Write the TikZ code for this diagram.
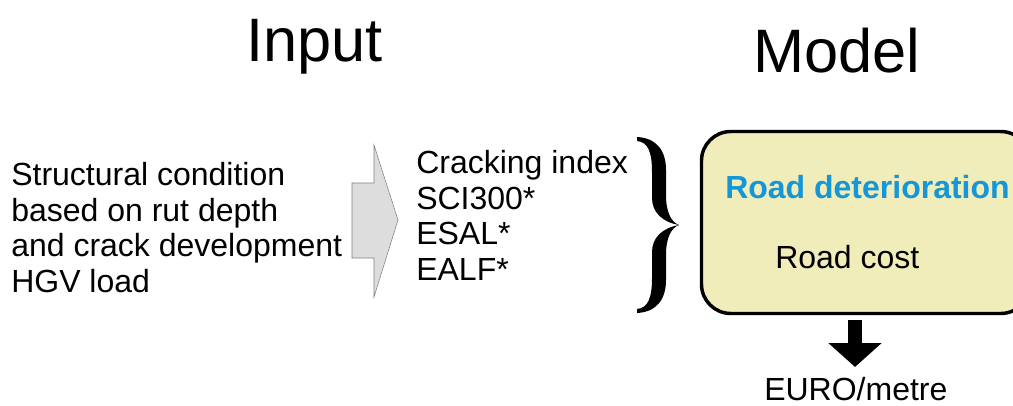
\documentclass[tikz,border=0pt]{standalone}
\usepackage{fontspec}
\setmainfont{Liberation Sans}
\usetikzlibrary{arrows.meta}

\definecolor{roadblue}{RGB}{20,150,215}
\definecolor{boxyellow}{RGB}{240,237,186}
\definecolor{arrowgrey}{RGB}{221,221,221}

\tikzset{
  title/.style={font=\fontsize{46}{50}\selectfont, inner sep=0pt, anchor=base west},
  itemtext/.style={font=\fontsize{24}{26.6}\selectfont, align=left, inner sep=0pt, anchor=base west},
  modelbox/.style={draw=black, line width=2.6pt, fill=boxyellow, rounded corners=22pt,
    minimum width=246.4pt, minimum height=136.5pt, inner sep=0pt},
  downarrow/.style={line width=10.5pt, -{Triangle[width=39pt,length=18pt]}}
}

\begin{document}
\begin{tikzpicture}[x=0.75pt,y=-0.75pt]
\useasboundingbox (0,0) rectangle (1013,406);
\clip (0,0) rectangle (1013,406);

%Titles
\node[title] (input) at (246,62) {Input};
\node[title] (model) at (753,73) {Model};

%Input description (base = last line)
\node[itemtext] (structure) at (11,292) {Structural condition\\based on rut depth\\and crack development\\HGV load};

%Grey arrow
\filldraw[fill=arrowgrey, draw=gray] (352,183) -- (374,183) -- (374,145) -- (398,220) -- (374,297) -- (374,258) -- (352,258) -- cycle;

%Input values
\node[itemtext] (values) at (416,280) {Cracking index\\SCI300*\\ESAL*\\EALF*};

%Curly brace
\fill (637,137) .. controls (656,138) and (666,150) .. (666,170) -- (666,195)
  .. controls (666,212) and (671,222) .. (679,225)
  .. controls (662,222) and (652,212) .. (652,198) -- (652,172)
  .. controls (652,152) and (648,142) .. (637,141) -- cycle;
\fill (637,313) .. controls (656,312) and (666,300) .. (666,280) -- (666,255)
  .. controls (666,238) and (671,228) .. (679,225)
  .. controls (662,228) and (652,238) .. (652,252) -- (652,278)
  .. controls (652,298) and (648,308) .. (637,309) -- cycle;

%Model box
\node[modelbox] (box) at (865.75,222.5) {};
\node[itemtext, font=\fontsize{24}{26.6}\selectfont\bfseries, text=roadblue] (deterioration) at (725,198) {Road deterioration};
\node[itemtext] (cost) at (775,268) {Road cost};

%Output
\node[itemtext] (euro) at (764,400) {EURO/metre};
\coordinate (outtop) at (855,320);
\coordinate (outtip) at (855,367);
\draw[downarrow] (outtop) -- (outtip);

\end{tikzpicture}
\end{document}
